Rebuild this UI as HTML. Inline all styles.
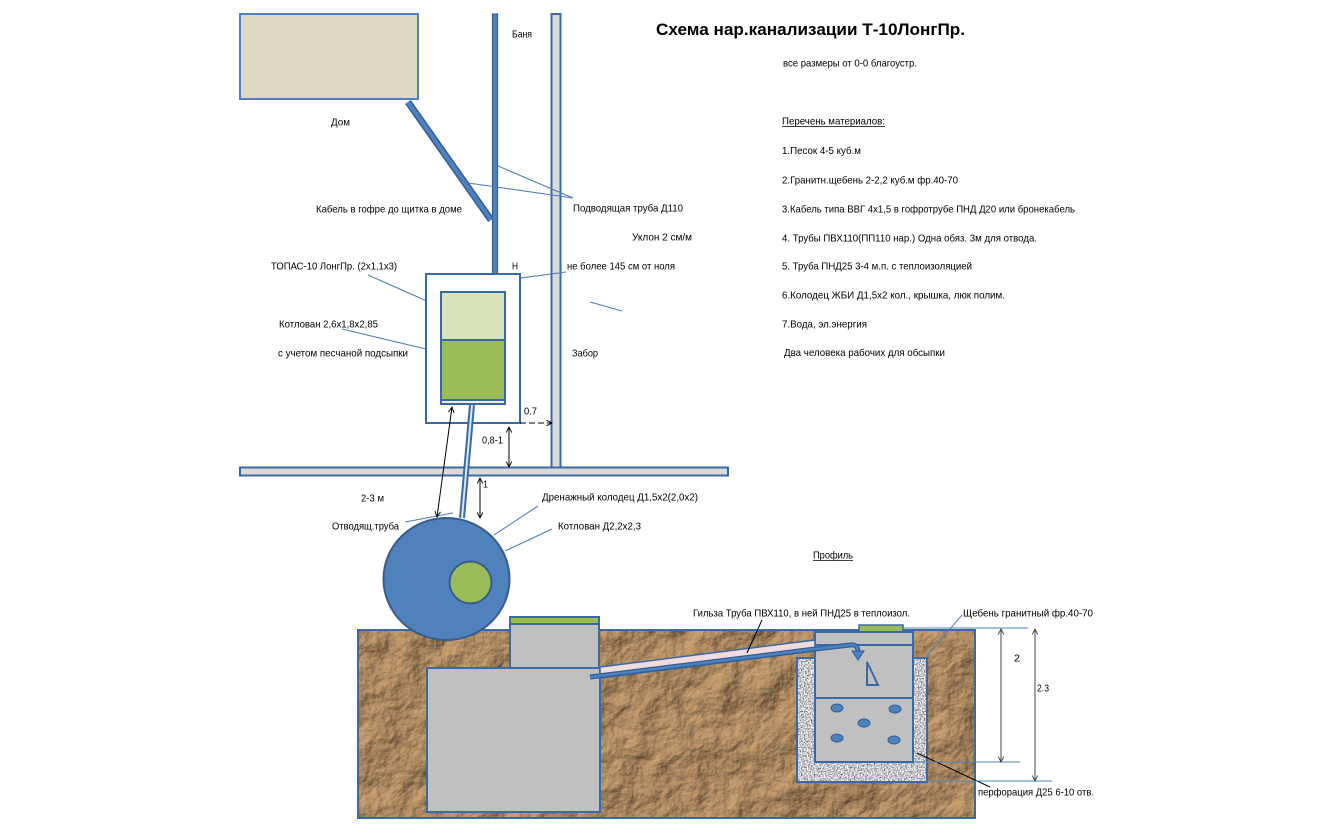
<!DOCTYPE html>
<html><head><meta charset="utf-8">
<style>
html,body{margin:0;padding:0;background:#fff;}
svg{display:block;}
text{font-family:"Liberation Sans","DejaVu Sans",sans-serif;font-size:10.5px;fill:#000;}
</style></head>
<body>
<svg width="1333" height="833" viewBox="0 0 1333 833" xmlns="http://www.w3.org/2000/svg">
<defs>
  <filter id="soil" x="0" y="0" width="100%" height="100%" color-interpolation-filters="sRGB">
    <feTurbulence type="fractalNoise" baseFrequency="0.03" numOctaves="5" seed="7" result="n"/>
    <feDiffuseLighting in="n" surfaceScale="4.5" lighting-color="#cfa574" result="l">
      <feDistantLight azimuth="225" elevation="55"/>
    </feDiffuseLighting>
    <feComposite in="l" in2="SourceGraphic" operator="in"/>
  </filter>
  <filter id="grav" x="0" y="0" width="100%" height="100%" color-interpolation-filters="sRGB">
    <feTurbulence type="fractalNoise" baseFrequency="0.7" numOctaves="2" seed="4" result="n"/>
    <feColorMatrix in="n" type="matrix" values="1.5 0 0 0 0.03  1.5 0 0 0 0.03  1.5 0 0 0 0.05  0 0 0 0 1" result="g"/>
    <feComposite in="g" in2="SourceGraphic" operator="in"/>
  </filter>
  <marker id="ah" viewBox="0 0 10 10" refX="9" refY="5" markerWidth="7" markerHeight="7" orient="auto-start-reverse">
    <path d="M1,1 L9,5 L1,9" fill="none" stroke="#000" stroke-width="1.3"/>
  </marker>
  <marker id="ahg" viewBox="0 0 10 10" refX="9" refY="5" markerWidth="7" markerHeight="7" orient="auto-start-reverse">
    <path d="M1,1 L9,5 L1,9" fill="none" stroke="#444" stroke-width="1.3"/>
  </marker>
</defs>

<!-- Title -->
<text x="656" y="35" style="font-size:17px;font-weight:bold" textLength="309" lengthAdjust="spacingAndGlyphs">Схема нар.канализации Т-10ЛонгПр.</text>
<text x="783" y="66.5" textLength="134" lengthAdjust="spacingAndGlyphs">все размеры от 0-0 благоустр.</text>

<!-- materials list -->
<text x="782" y="124.5" textLength="103" lengthAdjust="spacingAndGlyphs">Перечень материалов:</text>
<line x1="782" y1="126.5" x2="885" y2="126.5" stroke="#000" stroke-width="0.8"/>
<text x="782" y="154" textLength="79" lengthAdjust="spacingAndGlyphs">1.Песок 4-5 куб.м</text>
<text x="782" y="183.5" textLength="176" lengthAdjust="spacingAndGlyphs">2.Гранитн.щебень 2-2,2 куб.м фр.40-70</text>
<text x="782" y="212.5" textLength="293" lengthAdjust="spacingAndGlyphs">3.Кабель типа ВВГ 4х1,5 в гофротрубе ПНД Д20 или бронекабель</text>
<text x="782" y="241.5" textLength="255" lengthAdjust="spacingAndGlyphs">4. Трубы ПВХ110(ПП110 нар.) Одна обяз. 3м для отвода.</text>
<text x="782" y="269.5" textLength="190" lengthAdjust="spacingAndGlyphs">5. Труба ПНД25 3-4 м.п. с теплоизоляцией</text>
<text x="782" y="298.5" textLength="223" lengthAdjust="spacingAndGlyphs">6.Колодец ЖБИ Д1,5х2 кол., крышка, люк полим.</text>
<text x="782" y="327.5" textLength="85" lengthAdjust="spacingAndGlyphs">7.Вода, эл.энергия</text>
<text x="784" y="356" textLength="161" lengthAdjust="spacingAndGlyphs">Два человека рабочих для обсыпки</text>

<!-- House -->
<rect x="240" y="14" width="178" height="85" fill="#ddd9c3" stroke="#4f81bd" stroke-width="2"/>
<text x="331" y="125.5" textLength="19" lengthAdjust="spacingAndGlyphs">Дом</text>

<!-- Cable -->
<line x1="408" y1="102" x2="491" y2="220" stroke="#2f5f98" stroke-width="7"/>
<line x1="408" y1="102" x2="491" y2="220" stroke="#4f81bd" stroke-width="4"/>

<!-- vertical pipe from banya -->
<rect x="492.5" y="14" width="5" height="278" fill="#4f81bd" stroke="#2f5f98" stroke-width="1.2"/>
<text x="512" y="37.5" textLength="20" lengthAdjust="spacingAndGlyphs">Баня</text>

<!-- Fence -->
<rect x="551.5" y="14" width="9" height="454" fill="#d9d9d9" stroke="#3a6aa5" stroke-width="2"/>

<!-- Ground line -->
<rect x="240" y="467.5" width="488" height="8" fill="#d9d9d9" stroke="#3a6aa5" stroke-width="2"/>

<!-- leaders top -->
<g stroke="#4f81bd" stroke-width="1.1" fill="none">
  <line x1="498" y1="166" x2="573" y2="198"/>
  <line x1="468" y1="183" x2="573" y2="198"/>
  <line x1="498" y1="281" x2="566" y2="272"/>
  <line x1="590" y1="302" x2="622" y2="311"/>
  <line x1="368" y1="275" x2="463" y2="317"/>
  <line x1="342" y1="329" x2="426" y2="349"/>
  <line x1="405" y1="522" x2="453" y2="513"/>
  <line x1="494" y1="535" x2="538" y2="506"/>
  <line x1="505" y1="551" x2="552" y2="529"/>
</g>

<text x="316" y="212.5" textLength="146" lengthAdjust="spacingAndGlyphs">Кабель в гофре до щитка в доме</text>
<text x="573" y="211.5" textLength="110" lengthAdjust="spacingAndGlyphs">Подводящая труба Д110</text>
<text x="632" y="240.5" textLength="60" lengthAdjust="spacingAndGlyphs">Уклон 2 см/м</text>
<text x="512" y="269.5" textLength="6" lengthAdjust="spacingAndGlyphs">Н</text>
<text x="567" y="269.5" textLength="108" lengthAdjust="spacingAndGlyphs">не более 145 см от ноля</text>
<text x="271" y="269.5" textLength="126" lengthAdjust="spacingAndGlyphs">ТОПАС-10 ЛонгПр. (2х1,1х3)</text>
<text x="279" y="327.5" textLength="99" lengthAdjust="spacingAndGlyphs">Котлован 2,6х1,8х2,85</text>
<text x="278" y="356.5" textLength="130" lengthAdjust="spacingAndGlyphs">с учетом песчаной подсыпки</text>
<text x="572" y="356.5" textLength="26" lengthAdjust="spacingAndGlyphs">Забор</text>

<!-- Pit and tank plan -->
<rect x="426" y="274" width="94" height="149" fill="#fff" stroke="#3a6aa5" stroke-width="2"/>
<rect x="441" y="292" width="64" height="112" fill="#ebf1de" stroke="#3a6aa5" stroke-width="2"/>
<rect x="441" y="292" width="64" height="48" fill="#d7e4bd" stroke="#3a6aa5" stroke-width="2"/>
<rect x="441" y="340" width="64" height="60" fill="#9bbb59" stroke="#3a6aa5" stroke-width="2"/>

<!-- outlet pipe -->
<line x1="472" y1="405" x2="462" y2="518" stroke="#3a6aa5" stroke-width="6"/>
<line x1="472" y1="405" x2="462" y2="518" stroke="#dce6f2" stroke-width="2"/>

<!-- dimension arrows -->
<g stroke="#000" stroke-width="1" fill="none">
  <line x1="452" y1="407" x2="437" y2="517" marker-start="url(#ah)" marker-end="url(#ah)"/>
  <line x1="509" y1="427" x2="509" y2="467" marker-start="url(#ah)" marker-end="url(#ah)"/>
  <line x1="480" y1="478" x2="480" y2="518" marker-start="url(#ah)" marker-end="url(#ah)"/>
  <line x1="520" y1="423" x2="552" y2="423" stroke-dasharray="6,3" marker-end="url(#ah)"/>
</g>
<text x="524" y="414.5" textLength="13" lengthAdjust="spacingAndGlyphs">0.7</text>
<text x="482" y="443.5" textLength="21" lengthAdjust="spacingAndGlyphs">0,8-1</text>
<text x="483" y="487.5" textLength="5" lengthAdjust="spacingAndGlyphs">1</text>
<text x="361" y="501.5" textLength="23" lengthAdjust="spacingAndGlyphs">2-3 м</text>
<text x="332" y="529.5" textLength="67" lengthAdjust="spacingAndGlyphs">Отводящ.труба</text>
<text x="542" y="500.5" textLength="156" lengthAdjust="spacingAndGlyphs">Дренажный колодец Д1,5х2(2,0х2)</text>
<text x="558" y="529.5" textLength="83" lengthAdjust="spacingAndGlyphs">Котлован Д2,2х2,3</text>

<text x="813" y="558.5" textLength="40" lengthAdjust="spacingAndGlyphs">Профиль</text>
<line x1="813" y1="560.5" x2="853" y2="560.5" stroke="#000" stroke-width="0.8"/>

<!-- Soil -->
<rect x="358" y="630" width="617" height="188" fill="#a5855b"/>
<rect x="358" y="630" width="617" height="188" fill="#a5855b" filter="url(#soil)"/>
<rect x="358" y="630" width="617" height="188" fill="none" stroke="#3a6aa5" stroke-width="2"/>

<!-- circle (plan well) -->
<ellipse cx="446.5" cy="579" rx="63" ry="61" fill="#4f81bd" stroke="#385d8a" stroke-width="2"/>
<circle cx="470.5" cy="582.5" r="21" fill="#9bbb59" stroke="#385d8a" stroke-width="2"/>

<!-- septic tank profile -->
<rect x="510" y="617" width="89" height="7" fill="#9bbb59" stroke="#3a6aa5" stroke-width="2"/>
<rect x="510" y="624" width="89" height="44" fill="#c0c0c0" stroke="#3a6aa5" stroke-width="2"/>
<rect x="427" y="668" width="173" height="144" fill="#c0c0c0" stroke="#3a6aa5" stroke-width="2"/>

<!-- gravel -->
<rect x="797" y="658" width="130" height="124" fill="#c4c4c4"/>
<rect x="797" y="658" width="130" height="124" fill="#c4c4c4" filter="url(#grav)"/>
<rect x="797" y="658" width="130" height="124" fill="none" stroke="#3a6aa5" stroke-width="2"/>

<!-- well -->
<rect x="859" y="625" width="44" height="7" fill="#9bbb59" stroke="#3a6aa5" stroke-width="1.5"/>
<rect x="815" y="632" width="98" height="130" fill="#c0c0c0" stroke="#3a6aa5" stroke-width="2"/>
<line x1="815" y1="645" x2="913" y2="645" stroke="#3a6aa5" stroke-width="2"/>
<line x1="815" y1="698" x2="913" y2="698" stroke="#3a6aa5" stroke-width="2"/>
<polygon points="867,662 867,685 878,685" fill="none" stroke="#3a6aa5" stroke-width="2"/>
<g fill="#4f81bd" stroke="#2f5f98" stroke-width="1">
  <ellipse cx="837" cy="708" rx="6" ry="4"/>
  <ellipse cx="895" cy="709" rx="6" ry="4"/>
  <ellipse cx="864" cy="723" rx="6" ry="4"/>
  <ellipse cx="837" cy="738" rx="6" ry="4"/>
  <ellipse cx="894" cy="740" rx="6" ry="4"/>
</g>

<!-- sleeve pipe -->
<polygon points="600,667 815,640 815,651 600,678" fill="#f2dcdb" stroke="#3a6aa5" stroke-width="1.5"/>
<path d="M590,677 L815,649 L850,645 Q858,644 858,652" fill="none" stroke="#2f5f98" stroke-width="5"/>
<path d="M590,677 L815,649 L850,645 Q858,644 858,652" fill="none" stroke="#4f81bd" stroke-width="2.5"/>
<polygon points="852,651 864,651 858,660" fill="#4f81bd" stroke="#2f5f98" stroke-width="1"/>

<!-- leaders profile -->
<line x1="762" y1="620" x2="747" y2="653" stroke="#000" stroke-width="1"/>
<line x1="917" y1="753" x2="990" y2="787" stroke="#000" stroke-width="1"/>
<line x1="925" y1="658" x2="962" y2="615" stroke="#4f81bd" stroke-width="1"/>

<!-- dimension lines right -->
<g stroke="#4f81bd" stroke-width="1">
  <line x1="903" y1="628" x2="1028" y2="628"/>
  <line x1="913" y1="762" x2="1020" y2="762"/>
  <line x1="927" y1="781" x2="1052" y2="781"/>
</g>
<g stroke="#444" stroke-width="1" fill="none">
  <line x1="1001" y1="629" x2="1001" y2="762" marker-start="url(#ahg)" marker-end="url(#ahg)"/>
  <line x1="1035" y1="629" x2="1035" y2="781" marker-start="url(#ahg)" marker-end="url(#ahg)"/>
</g>

<text x="693" y="616.5" textLength="217" lengthAdjust="spacingAndGlyphs">Гильза Труба ПВХ110, в ней ПНД25 в теплоизол.</text>
<text x="963" y="616.5" textLength="130" lengthAdjust="spacingAndGlyphs">Щебень гранитный фр.40-70</text>
<text x="978" y="795.5" textLength="116" lengthAdjust="spacingAndGlyphs">перфорация Д25 6-10 отв.</text>
<text x="1014" y="661.5" textLength="6" lengthAdjust="spacingAndGlyphs">2</text>
<text x="1037" y="691.5" textLength="12" lengthAdjust="spacingAndGlyphs">2.3</text>
</svg>
</body></html>
